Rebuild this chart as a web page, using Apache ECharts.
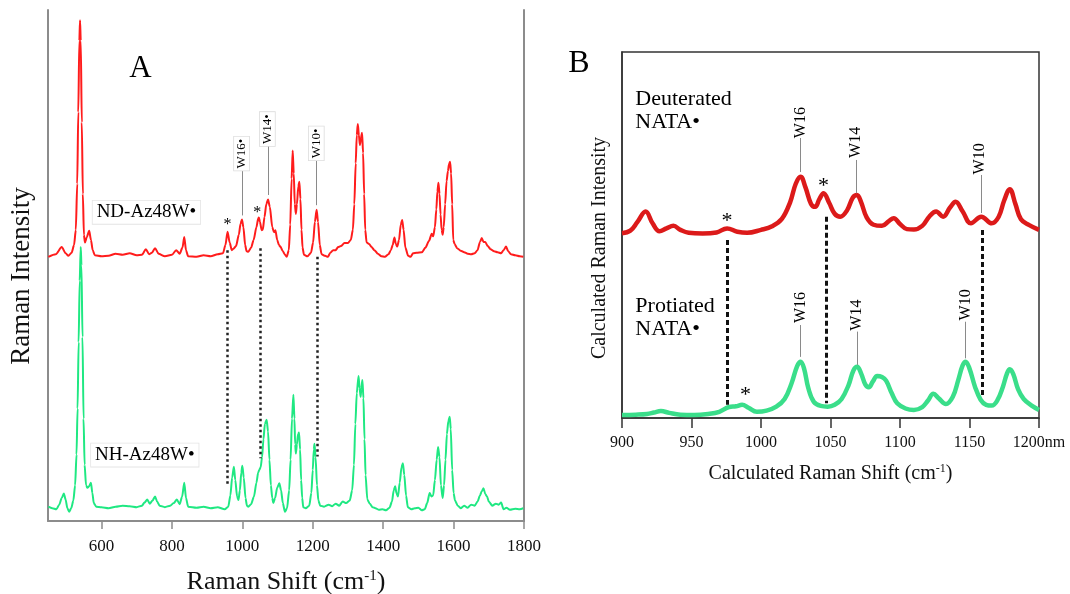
<!DOCTYPE html>
<html>
<head>
<meta charset="utf-8">
<script src="https://cdn.jsdelivr.net/npm/echarts@6/dist/echarts.min.js"></script>
<style>html,body{margin:0;padding:0;background:#fff}#c{width:1070px;height:594px}</style>
</head>
<body>
<div id="c"></div>
<script>
// ---------- Panel A data: Raman shift (cm-1), stacked intensity (arb.) ----------
const ndAz48W = [[449,51.7],[470,52.2],[487,53.6],[498,52.4],[506,51.9],[515,52.5],[522,54],[527,57],[531,66],[534,80],[537,94],[539,98],[541,94],[544,78],[547,64],[550,56],[553,54.5],[558,55.5],[565,56.8],[570,55],[575,53],[581,52.0],[600,51.8],[620,51.9],[640,52.3],[660,52.1],[680,52.4],[700,52.0],[715,52.1],[726,53.2],[735,52.2],[743,52.5],[752,53.4],[762,52.3],[780,51.8],[800,52.1],[812,53.0],[822,52.3],[830,53.5],[835,55.6],[840,53],[846,51.8],[870,51.7],[890,52.0],[910,51.8],[930,52.2],[945,52.4],[952,54],[958,56.6],[964,54.5],[970,53.0],[975,53.3],[982,53.8],[990,56],[995,58.2],[999,59.0],[1003,57.5],[1008,54],[1012,52.8],[1017,52.7],[1025,53.5],[1032,55],[1040,57.5],[1045,59.2],[1047,59.4],[1050,58.5],[1055,56.9],[1058,57.0],[1063,59.5],[1068,62],[1073,62.9],[1078,61.5],[1085,57.5],[1090,56.5],[1094,56.9],[1099,55],[1104,54.0],[1108,53.7],[1115,52.8],[1120,52.2],[1126,51.7],[1132,53],[1136,58],[1140,67],[1143,72.5],[1146,68],[1149,62],[1152,60.1],[1155,62],[1159,65.5],[1162,66.4],[1165,63],[1168,57],[1171,53.5],[1175,52.1],[1185,51.8],[1195,52.5],[1201,54.5],[1206,58.5],[1211,60.9],[1215,58.5],[1220,54],[1225,52.2],[1235,51.9],[1243,51.7],[1250,52.5],[1258,53],[1265,53.0],[1272,53.6],[1280,53.8],[1290,54.4],[1300,54.4],[1308,55],[1314,57],[1318,62],[1322,70],[1325,75.5],[1328,77.7],[1331,75.5],[1334,73.6],[1337,75],[1340,76.0],[1343,72],[1346,64],[1349,57],[1353,54.5],[1360,54.2],[1367,53.6],[1375,53],[1385,52.3],[1395,51.8],[1405,51.7],[1415,52.2],[1422,53],[1427,54],[1432,55.5],[1436,54.2],[1440,53.7],[1445,55],[1450,58],[1454,58.9],[1458,57],[1463,53.5],[1471,51.9],[1478,51.7],[1485,52.4],[1495,52.5],[1510,52.6],[1520,53.5],[1530,54.8],[1538,56.2],[1542,55.7],[1547,57.5],[1551,61],[1554,64.5],[1557,66.2],[1560,64],[1563,60],[1566,57],[1569,56.0],[1572,57.5],[1576,62],[1580,66.5],[1584,68.5],[1587,69.8],[1590,70.3],[1593,68],[1596,62],[1599,55.0],[1603,54.2],[1610,53.4],[1620,52.9],[1630,52.6],[1640,52.3],[1650,52.2],[1660,52.4],[1668,53],[1675,54.6],[1680,55.4],[1685,54.6],[1690,54.6],[1697,53.8],[1705,53.2],[1715,52.8],[1725,52.6],[1735,52.4],[1742,53],[1749,53.7],[1755,52.8],[1763,52.2],[1775,52.0],[1788,51.8],[1798,51.7]];
const nhAz48W = [[449,2.8],[460,2.5],[472,2.3],[480,3.2],[487,4.5],[493,5.4],[498,4.2],[503,2.5],[508,1.8],[514,2.5],[520,4],[525,7],[529,13],[532,22],[535,35],[538,47],[541,53.6],[543,50],[546,36],[549,20],[552,11],[556,7],[560,6.5],[565,6.8],[570,7.5],[574,5.5],[578,3.5],[585,2.8],[600,2.7],[620,2.5],[640,2.8],[660,3.0],[680,2.9],[700,2.7],[715,3.0],[722,3.6],[730,4.2],[737,3.4],[745,4.0],[752,4.8],[758,3.8],[765,3.0],[780,2.7],[795,3.0],[805,3.5],[814,4.2],[822,3.3],[829,4.8],[835,7.5],[840,4.5],[846,2.8],[870,2.6],[890,2.8],[910,2.5],[930,2.7],[950,2.3],[960,2.8],[966,5],[971,8.5],[976,10.6],[980,8],[985,4.8],[989,4.1],[993,6],[997,9.5],[1000,10.8],[1004,8.5],[1009,4.5],[1013,3.0],[1017,2.8],[1025,3.3],[1033,4.8],[1040,7.5],[1045,9.5],[1048,10.0],[1052,10.5],[1056,12.5],[1060,16],[1064,19],[1069,19.8],[1073,17.5],[1077,12],[1081,7],[1085,4.5],[1088,3.5],[1093,4.5],[1099,6.5],[1105,7.4],[1110,6],[1115,3.5],[1121,1.8],[1127,2.5],[1133,6],[1137,12],[1141,20],[1145,24.7],[1148,20],[1150,15],[1152,13.2],[1155,15],[1158,17],[1161,17.3],[1164,14],[1167,8],[1170,4.5],[1173,2.7],[1180,2.5],[1190,3.0],[1196,5.5],[1200,10],[1203,14],[1205,15.1],[1208,12.5],[1212,7],[1216,4],[1221,3.0],[1232,2.8],[1245,3.2],[1255,2.9],[1265,3.4],[1275,3.0],[1285,3.8],[1295,3.5],[1305,4],[1312,6],[1317,11],[1321,19],[1325,25],[1330,28.4],[1333,26],[1336,24.3],[1338,26],[1341,27.6],[1344,24],[1347,16],[1350,9],[1355,4.2],[1362,3.4],[1370,2.7],[1378,2.5],[1388,2.2],[1398,2.3],[1408,2.1],[1418,2.6],[1425,3.8],[1430,6.0],[1434,6.8],[1438,5.4],[1442,4.8],[1447,7.5],[1452,10.5],[1456,11.3],[1460,9],[1465,5],[1470,2.7],[1480,2.3],[1490,2.5],[1500,2.6],[1510,2.1],[1518,2.3],[1525,3.5],[1532,5.5],[1537,4.8],[1542,5],[1547,8],[1552,12],[1556,14.5],[1560,12.5],[1564,7],[1569,4.5],[1573,7],[1577,12],[1581,17],[1585,19.5],[1589,20.4],[1592,18],[1596,10],[1600,5.5],[1604,4.0],[1612,3.0],[1620,2.5],[1630,3.0],[1640,2.6],[1650,3.2],[1660,3.0],[1668,3.8],[1675,5],[1680,5.8],[1685,6.4],[1690,5.3],[1695,4.8],[1700,3.8],[1710,3.0],[1720,3.4],[1728,3.2],[1735,3.6],[1742,2.3],[1750,2.6],[1760,2.2],[1775,2.4],[1788,2.3],[1798,2.5]];
const ticksA = [600, 800, 1000, 1200, 1400, 1600, 1800];
// annotation anchors in data units: [shift, from, to] / [text, shift, intensity]
const dottedA = [[957.8, 53.0, 7.0], [1049.6, 53.4, 12.3], [1213.5, 51.7, 12.6]];
const leadersA = [[998.4, 68.9, 59.8], [1072.3, 73.6, 63.8], [1210.7, 70.6, 61.8]];
const peakLabelsA = [['W16•', 997.8, 71.9], ['W14•', 1071.0, 76.7], ['W10•', 1210.0, 73.9]];
const starsA = [['*', 958.0, 58.6], ['*', 1042.5, 60.9]];
const spectrumLabelsA = [['ND-Az48W•', 727.5, 60.4], ['NH-Az48W•', 723.0, 12.9]];

// ---------- Panel B data: calculated Raman shift (cm-1), stacked intensity ----------
const deutNATA = [[900,50.5],[906,51.2],[911,53.5],[917,56.4],[922,53.2],[927,51.0],[932,51.8],[937,52.5],[942,51.4],[948,50.6],[958,50.4],[968,50.7],[975.6,51.8],[983,50.9],[990,50.6],[1000,51.4],[1008,52.4],[1015,54.4],[1021,59],[1025,64],[1028.5,65.9],[1032,63],[1036,58.5],[1039,57.7],[1042,59.8],[1045,61.4],[1049,58.8],[1053,55.8],[1057,55.0],[1062,56.8],[1066,60.2],[1069,60.9],[1072,59],[1076,54.8],[1081,52.8],[1087,52.5],[1092,53.8],[1095.5,54.6],[1100,53],[1105,51.6],[1110,51.5],[1116,52.5],[1121,55],[1126,56.4],[1131,55.0],[1136,57.5],[1140,59.1],[1145,56.5],[1151,53.2],[1158.5,55.0],[1166,53.2],[1171,55],[1175,59.5],[1179,62.5],[1183,58.5],[1187,54.3],[1193,52.7],[1200,51.4]];
const protNATA = [[900,0.8],[910,0.9],[918,1.1],[923,1.5],[928,1.9],[934,1.4],[942,0.9],[952,0.8],[962,1.1],[970,1.7],[977,3.0],[982,3.2],[986.4,3.6],[991,2.8],[997,1.7],[1004,2.0],[1011,3.1],[1017,5.2],[1022,9.5],[1026,14.2],[1028.5,15.4],[1031,13.5],[1034,8.2],[1038,4.4],[1043,3.3],[1048,3.1],[1053,3.6],[1058,5.2],[1063,9],[1066.5,13],[1069.2,14.0],[1072,12.2],[1075,9.2],[1077.5,8.4],[1080.5,10],[1083.6,11.5],[1087,11.2],[1090,10.2],[1094,6.8],[1098,4.0],[1104,2.6],[1110,2.2],[1116,3.0],[1120,4.7],[1124,6.6],[1128,5.3],[1133,3.8],[1138,5.8],[1142,10.5],[1145,14.3],[1147.2,15.4],[1150,13.5],[1154,8.5],[1158,5.0],[1162,3.6],[1166,3.4],[1170,4.8],[1174,8.5],[1177,12.2],[1179,13.3],[1181.5,12],[1185,7.8],[1189,5.2],[1195,3.3],[1200,2.2]];
const ticksB = [900, 950, 1000, 1050, 1100, 1150, 1200];
const tickLabelsB = ['900', '950', '1000', '1050', '1100', '1150', '1200nm'];
const dashedB = [[975.6, 48.6, 3.6], [1046.9, 55.0, 4.0], [1159.2, 51.4, 5.8]];
const leadersB = [[1028.4, 76.5, 67.2], [1068.7, 70.5, 61.4], [1158.7, 66.4, 56.0], [1028.4, 25.4, 16.7], [1069.2, 23.6, 14.5], [1147.2, 26.3, 16.3]];
const peakLabelsB = [['W16', 1028.4, 80.7], ['W14', 1068.2, 75.3], ['W10', 1157.6, 70.8], ['W16', 1028.4, 30.2], ['W14', 1068.7, 28.1], ['W10', 1147.2, 30.9]];
const starsB = [['*', 975.6, 54.9], ['*', 1044.9, 64.5], ['*', 988.9, 7.2]];
const spectrumLabelsB = [['Deuterated\nNATA•', 909.6, 83.9], ['Protiated\nNATA•', 909.6, 27.3]];

// ---------- chart ----------
const FF = '"Liberation Serif","Times New Roman",Times,serif';
const chart = echarts.init(document.getElementById('c'), null, {renderer: 'canvas'});

const segs = arr => arr.map(d => [{coord: [d[0], d[1]]}, {coord: [d[0], d[2]]}]);
const textItems = (arr, label) => arr.map(d => ({value: [d[1], d[2]], label: Object.assign({formatter: d[0]}, label)}));

const baseLabel = {show: true, position: [0, 0], align: 'center', verticalAlign: 'middle',
  color: '#000', fontFamily: FF, textBorderWidth: 0, textShadowBlur: 0, opacity: 1};

function annotSeries(xi, yi, items, leaders, leaderColor) {
  return {
    type: 'scatter', xAxisIndex: xi, yAxisIndex: yi, symbolSize: 0, silent: true, z: 5,
    itemStyle: {opacity: 1},
    emphasis: {disabled: true},
    data: items,
    markLine: leaders ? {silent: true, symbol: 'none', label: {show: false},
      lineStyle: {color: leaderColor, width: 1, type: 'solid'}, data: segs(leaders)} : undefined
  };
}

const option = {
  animation: false,
  backgroundColor: '#fff',
  textStyle: {fontFamily: FF},
  grid: [
    {left: 48, top: 10, width: 476, height: 511, outerBoundsMode: 'none'},
    {left: 622, top: 52, width: 417, height: 366, show: true, borderColor: '#333', borderWidth: 1.5, outerBoundsMode: 'none'}
  ],
  xAxis: [
    {gridIndex: 0, type: 'value', min: 448, max: 1800,
      axisLine: {show: true, lineStyle: {color: '#8c8c8c', width: 2}},
      axisTick: {show: true, customValues: ticksA, length: 8, lineStyle: {color: '#8c8c8c', width: 1.5}},
      axisLabel: {customValues: ticksA, margin: 17, fontSize: 17, color: '#111', fontFamily: FF, formatter: v => String(v)},
      splitLine: {show: false},
      name: 'Raman Shift (cm{sup|-1})', nameLocation: 'middle', nameGap: 48,
      nameTextStyle: {fontSize: 26, color: '#111', fontFamily: FF,
        rich: {sup: {fontSize: 15, fontFamily: FF, color: '#111', verticalAlign: 'top', padding: [0, 0, 12, 0]}}}
    },
    {gridIndex: 1, type: 'value', min: 900, max: 1200, interval: 50,
      axisLine: {show: true, lineStyle: {color: '#333', width: 1.5}},
      axisTick: {show: true, customValues: ticksB, length: 10, lineStyle: {color: '#333', width: 1.5}},
      axisLabel: {customValues: ticksB, margin: 17, fontSize: 16, color: '#111', fontFamily: FF,
        formatter: v => { const i = ticksB.indexOf(v); return i >= 0 ? tickLabelsB[i] : String(v); }},
      splitLine: {show: false},
      name: 'Calculated Raman Shift (cm{sup|-1})', nameLocation: 'middle', nameGap: 45,
      nameTextStyle: {fontSize: 20, color: '#111', fontFamily: FF,
        rich: {sup: {fontSize: 12, fontFamily: FF, color: '#111', verticalAlign: 'top', padding: [0, 0, 9, 0]}}}
    }
  ],
  yAxis: [
    {gridIndex: 0, type: 'value', min: 0, max: 100,
      axisLine: {show: true, lineStyle: {color: '#8c8c8c', width: 2}},
      axisTick: {show: false}, axisLabel: {show: false}, splitLine: {show: false},
      name: 'Raman Intensity', nameLocation: 'middle', nameGap: 13,
      nameTextStyle: {fontSize: 27, color: '#111', fontFamily: FF, padding: [0, 21, 0, 0]}
    },
    {gridIndex: 0, type: 'value', min: 0, max: 100, position: 'right',
      axisLine: {show: true, lineStyle: {color: '#8c8c8c', width: 2}},
      axisTick: {show: false}, axisLabel: {show: false}, splitLine: {show: false}
    },
    {gridIndex: 1, type: 'value', min: 0, max: 100,
      axisLine: {show: true, lineStyle: {color: '#333', width: 1.5}},
      axisTick: {show: false}, axisLabel: {show: false}, splitLine: {show: false},
      name: 'Calculated Raman Intensity', nameLocation: 'middle', nameGap: 12,
      nameTextStyle: {fontSize: 20, color: '#111', fontFamily: FF, padding: [0, 26, 0, 0]}
    }
  ],
  graphic: [
    {type: 'text', x: 140.5, y: 69, silent: true,
      style: {text: 'A', font: '31px ' + FF, fill: '#000', align: 'center', verticalAlign: 'middle', textAlign: 'center', textVerticalAlign: 'middle'}},
    {type: 'text', x: 579, y: 64, silent: true,
      style: {text: 'B', font: '32px ' + FF, fill: '#000', align: 'center', verticalAlign: 'middle', textAlign: 'center', textVerticalAlign: 'middle'}}
  ],
  series: [
    {name: 'ND-Az48W', type: 'line', xAxisIndex: 0, yAxisIndex: 0, data: ndAz48W, showSymbol: false,
      smooth: 0.25, smoothMonotone: 'x', lineStyle: {color: '#ff1c1c', width: 2}, z: 3,
      markLine: {silent: true, symbol: 'none', label: {show: false},
        lineStyle: {color: '#222', width: 2.5, type: [2.5, 3]}, data: segs(dottedA)}},
    {name: 'NH-Az48W', type: 'line', xAxisIndex: 0, yAxisIndex: 0, data: nhAz48W, showSymbol: false,
      smooth: 0.25, smoothMonotone: 'x', lineStyle: {color: '#1fe882', width: 2}, z: 3},
    annotSeries(0, 0, []
      .concat(textItems(peakLabelsA, Object.assign({}, baseLabel, {fontSize: 13, rotate: 90, backgroundColor: '#fff', borderColor: '#dcdcdc', borderWidth: 0.8, padding: [1, 2]})))
      .concat(textItems(starsA, Object.assign({}, baseLabel, {fontSize: 16, offset: [0, 3]})))
      .concat(textItems(spectrumLabelsA, Object.assign({}, baseLabel, {fontSize: 19, backgroundColor: '#fff', borderColor: '#e4e4e4', borderWidth: 0.8, padding: [2, 4]}))),
      leadersA, '#8a8a8a'),
    {name: 'Deuterated NATA', type: 'line', xAxisIndex: 1, yAxisIndex: 2, data: deutNATA, showSymbol: false,
      smooth: 0.4, lineStyle: {color: '#dc1a1a', width: 4.5}, z: 3,
      markLine: {silent: true, symbol: 'none', label: {show: false},
        lineStyle: {color: '#111', width: 3, type: [5, 3]}, data: segs(dashedB)}},
    {name: 'Protiated NATA', type: 'line', xAxisIndex: 1, yAxisIndex: 2, data: protNATA, showSymbol: false,
      smooth: 0.4, lineStyle: {color: '#3ade8a', width: 4.5}, z: 3},
    annotSeries(1, 2, []
      .concat(textItems(peakLabelsB, Object.assign({}, baseLabel, {fontSize: 16, rotate: 90})))
      .concat(textItems(starsB, Object.assign({}, baseLabel, {fontSize: 22, offset: [0, 4]})))
      .concat(textItems(spectrumLabelsB, Object.assign({}, baseLabel, {fontSize: 22, lineHeight: 23, align: 'left'}))),
      leadersB, '#8a8a8a')
  ]
};
chart.setOption(option);
</script>
</body>
</html>
